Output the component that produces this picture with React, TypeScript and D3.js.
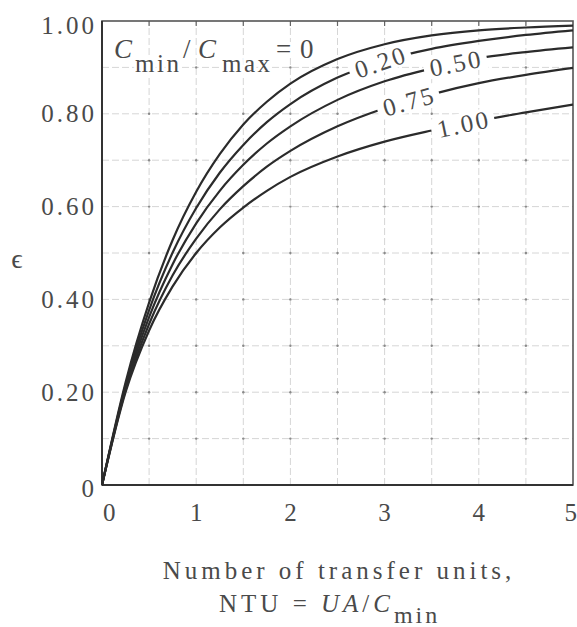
import React from 'react';
import * as d3 from 'd3';

const ntu = [0, 0.25, 0.5, 0.75, 1, 1.25, 1.5, 1.75, 2, 2.5, 3, 3.5, 4, 4.5, 5];
// effectiveness for each Cmin/Cmax ratio
const eps0 = [0, 0.221, 0.393, 0.528, 0.632, 0.713, 0.777, 0.826, 0.865, 0.918, 0.95, 0.969, 0.98, 0.986, 0.99];
const eps20 = [0, 0.215, 0.377, 0.501, 0.597, 0.673, 0.733, 0.782, 0.821, 0.878, 0.915, 0.94, 0.957, 0.97, 0.98];
const eps50 = [0, 0.21, 0.362, 0.476, 0.564, 0.634, 0.69, 0.736, 0.773, 0.83, 0.87, 0.898, 0.92, 0.933, 0.943];
const eps75 = [0, 0.205, 0.347, 0.452, 0.531, 0.594, 0.644, 0.686, 0.72, 0.773, 0.812, 0.842, 0.866, 0.884, 0.899];
const eps100 = [0, 0.2, 0.333, 0.428, 0.5, 0.555, 0.598, 0.634, 0.664, 0.708, 0.74, 0.764, 0.785, 0.803, 0.82];

const curveLabels = ['', '0.20', '0.50', '0.75', '1.00'];
const labelAt = [0, 2.95, 3.75, 3.25, 3.83];
const labelAngle = [0, -19, -11, -16, -12];

const xTicks = [0, 1, 2, 3, 4, 5];
const yTicks = [0, 0.2, 0.4, 0.6, 0.8, 1.0];
const yTickLabels = ['0', '0.20', '0.40', '0.60', '0.80', '1.00'];

const FONT = 'Liberation Serif, DejaVu Serif, serif';
const INK = '#4a4a4a';

export default function App() {
  const width = 577;
  const height = 627;
  const x = d3.scaleLinear().domain([0, 5]).range([102, 573]);
  const y = d3.scaleLinear().domain([0, 1]).range([485, 21]);

  const series = [eps0, eps20, eps50, eps75, eps100];
  const line = d3
    .line<number>()
    .x((_, i) => x(ntu[i]))
    .y((d) => y(d))
    .curve(d3.curveMonotoneX);

  const vGrid = d3.range(1, 10).map((i) => i * 0.5);
  const hGrid = d3.range(1, 10).map((i) => i / 10);

  const txt = { fontFamily: FONT, fill: INK } as React.CSSProperties;

  return (
    <svg
      width={width}
      height={height}
      style={{ position: 'absolute', left: 0, top: 0, background: '#fff' }}
    >
      {/* grid */}
      <g stroke="#d6d6d6" strokeWidth={1} strokeDasharray="7 3">
        {vGrid.map((v) => (
          <line key={'v' + v} x1={x(v)} x2={x(v)} y1={y(0)} y2={y(1)} />
        ))}
        {hGrid.map((v) => (
          <line key={'h' + v} x1={x(0)} x2={x(5)} y1={y(v)} y2={y(v)} />
        ))}
      </g>
      <g fill="#8a8a8a">
        {vGrid.map((a) =>
          hGrid.map((b) => <circle key={a + '-' + b} cx={x(a)} cy={y(b)} r={1.2} />)
        )}
      </g>
      {/* top ticks */}
      <g stroke="#666" strokeWidth={1.2}>
        {vGrid.map((v) => (
          <line key={'t' + v} x1={x(v)} x2={x(v)} y1={y(1)} y2={y(1) + 5} />
        ))}
      </g>

      {/* frame */}
      <rect
        x={x(0)}
        y={y(1)}
        width={x(5) - x(0)}
        height={y(0) - y(1)}
        fill="none"
        stroke="#555"
        strokeWidth={1.6}
      />
      <line x1={x(0)} x2={x(0)} y1={y(0)} y2={y(1)} stroke="#333" strokeWidth={2} />
      <line x1={x(0)} x2={x(5)} y1={y(0)} y2={y(0)} stroke="#333" strokeWidth={2} />

      {/* curves */}
      <g fill="none" stroke="#2b2b2b" strokeWidth={2.2}>
        {series.map((s, i) => (
          <path key={i} d={line(s) || ''} />
        ))}
      </g>

      {/* curve labels, a white box behind each one breaks the line */}
      <g fontSize={25} style={{ ...txt, letterSpacing: '2.5px' }} textAnchor="middle">
        {series.map((s, i) => {
          if (!curveLabels[i]) return null;
          const n = labelAt[i];
          const j = d3.bisectRight(ntu, n) - 1;
          const t = (n - ntu[j]) / (ntu[j + 1] - ntu[j]);
          const v = s[j] + (s[j + 1] - s[j]) * t;
          return (
            <g key={i} transform={`translate(${x(n)},${y(v)}) rotate(${labelAngle[i]})`}>
              <rect x={-32} y={-11} width={64} height={22} fill="#fff" />
              <text dx={1} dy="0.35em">
                {curveLabels[i]}
              </text>
            </g>
          );
        })}
      </g>

      {/* Cmin/Cmax = 0 annotation */}
      <text
        fontSize={27}
        stroke="#fff"
        strokeWidth={6}
        style={{ ...txt, paintOrder: 'stroke' }}
      >
        <tspan x={114} y={58} fontStyle="italic">C</tspan>
        <tspan x={135} y={72} fontSize={25} style={{ letterSpacing: '2.5px' }}>min</tspan>
        <tspan x={183} y={58}>/</tspan>
        <tspan x={198} y={58} fontStyle="italic">C</tspan>
        <tspan x={222} y={72} fontSize={25} style={{ letterSpacing: '2.5px' }}>max</tspan>
        <tspan x={276} y={58}>=</tspan>
        <tspan x={300} y={58}>0</tspan>
      </text>

      {/* y tick labels */}
      <g fontSize={25} textAnchor="end" style={{ ...txt, letterSpacing: '3px' }}>
        {yTicks.map((v, i) => (
          <text key={v} x={97} y={y(v) + (i === 0 ? 3 : 0) + (i === 5 ? 4 : 0)} dy="0.34em">
            {yTickLabels[i]}
          </text>
        ))}
      </g>

      {/* x tick labels */}
      <g fontSize={25} style={txt}>
        {xTicks.map((v, i) => (
          <text
            key={v}
            x={x(v) + (i === 0 ? 1 : 0) + (i === 5 ? 4 : 0)}
            y={521}
            textAnchor={i === 0 ? 'start' : i === 5 ? 'end' : 'middle'}
          >
            {v}
          </text>
        ))}
      </g>

      {/* y axis label */}
      <text x={17} y={268} fontSize={28} textAnchor="middle" style={txt}>
        ϵ
      </text>

      {/* x axis title */}
      <text
        x={339}
        y={579}
        fontSize={25}
        textAnchor="middle"
        style={{ ...txt, letterSpacing: '4px' }}
      >
        Number of transfer units,
      </text>
      <text fontSize={25} style={{ ...txt, letterSpacing: '4px' }}>
        <tspan x={219} y={612}>NTU = </tspan>
        <tspan fontStyle="italic">UA</tspan>
        <tspan>/</tspan>
        <tspan fontStyle="italic">C</tspan>
        <tspan dy={11} fontSize={24} style={{ letterSpacing: '3px' }}>min</tspan>
      </text>
    </svg>
  );
}
